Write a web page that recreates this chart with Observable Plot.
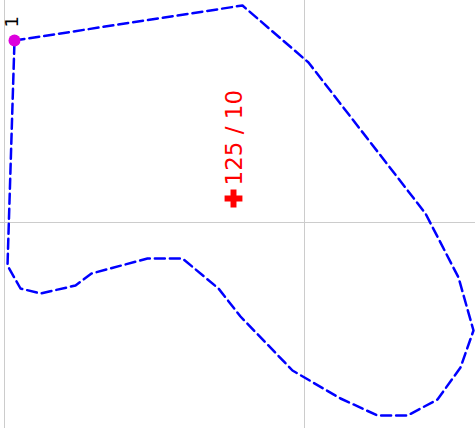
<!DOCTYPE html>
<html>
<head>
<meta charset="utf-8">
<script src="https://cdn.jsdelivr.net/npm/d3@7"></script>
<script src="https://cdn.jsdelivr.net/npm/@observablehq/plot@0.6"></script>
<style>
  html, body { margin: 0; padding: 0; background: #fff; }
</style>
</head>
<body>
<div id="chart"></div>
<script>
// Outline of the shape (x, y), in chart units
const shapeX = [-290, -62, 4, 121, 154, 169, 156, 133, 103, 73, 36, -12, -64, -86, -122, -157, -213, -229, -264, -284, -297];
const shapeY = [182, 217, 160, 9, -55, -108, -145, -177, -193, -193, -176, -148, -94, -66, -36, -36, -51, -63, -71, -66, -43];

// Highlighted point
const pointX = [-290];
const pointY = [182];
const pointLabel = ["1"];

// Centre marker
const centreX = [-71];
const centreY = [24];
const centreLabel = ["125 / 10"];

// Reference lines
const ruleXs = [-300, 0];
const ruleYs = [0];

const shape = shapeX.map((x, i) => ({x, y: shapeY[i]}));
const points = pointX.map((x, i) => ({x, y: pointY[i], label: pointLabel[i]}));
const centre = centreX.map((x, i) => ({x, y: centreY[i], label: centreLabel[i]}));

const chart = Plot.plot({
  width: 475,
  height: 428,
  margin: 0,
  x: {domain: [-304, 171], axis: null},
  y: {domain: [-206, 222], axis: null},
  style: {fontFamily: "DejaVu Sans", background: "#fff"},
  marks: [
    Plot.ruleX(ruleXs, {stroke: "#ccc", strokeWidth: 1}),
    Plot.ruleY(ruleYs, {stroke: "#ccc", strokeWidth: 1}),
    Plot.line(shape, {x: "x", y: "y", curve: "linear-closed", stroke: "#0000ff", strokeWidth: 2.5, strokeDasharray: "10,5"}),
    Plot.dot(points, {x: "x", y: "y", r: 6, fill: "#dd00dd", stroke: "none"}),
    Plot.text(points, {x: "x", y: "y", text: "label", rotate: -90, textAnchor: "start", fontSize: 18, fill: "#000", dy: -13, dx: -2}),
    Plot.dot(centre, {x: "x", y: "y", symbol: "cross", r: 7.5, fill: "#ff0000", stroke: "none"}),
    Plot.text(centre, {x: "x", y: "y", text: "label", rotate: -90, textAnchor: "start", fontSize: 23, fill: "#ff0000", dy: -13, dx: 1})
  ]
});
document.getElementById("chart").appendChild(chart);
</script>
</body>
</html>
